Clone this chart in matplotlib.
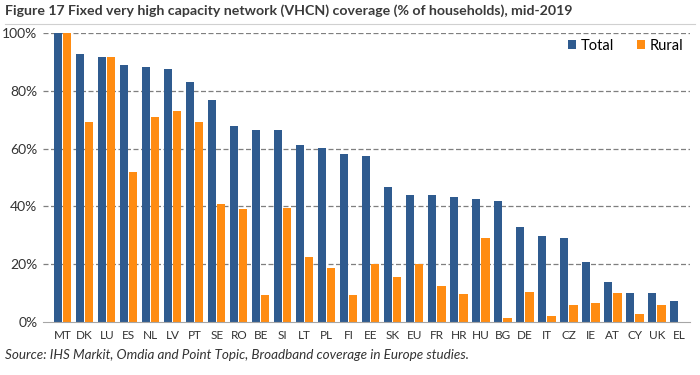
import numpy as np
import matplotlib.pyplot as plt

countries = ["MT", "DK", "LU", "ES", "NL", "LV", "PT", "SE", "RO", "BE", "SI", "LT", "PL", "FI",
             "EE", "SK", "EU", "FR", "HR", "HU", "BG", "DE", "IT", "CZ", "IE", "AT", "CY", "UK", "EL"]
total = [100, 92.7, 91.7, 89.0, 88.3, 87.7, 82.9, 76.9, 67.9, 66.4, 66.4, 61.2, 60.2, 58.2,
         57.5, 46.6, 44.0, 43.8, 43.1, 42.4, 42.0, 32.8, 29.9, 29.1, 20.7, 13.9, 10.2, 9.9, 7.2]
rural = [100, 69.1, 91.7, 51.9, 71.0, 73.1, 69.1, 40.8, 39.2, 9.2, 39.4, 22.4, 18.7, 9.2,
         19.9, 15.5, 20.2, 12.4, 9.6, 28.9, 1.4, 10.3, 2.1, 6.0, 6.7, 9.9, 2.9, 6.0, 0]

blue = "#2f5b8f"
orange = "#ff8c12"

plt.rcParams["font.family"] = ["Lato", "DejaVu Sans"]

fig = plt.figure(figsize=(7, 3.75), dpi=100)
ax = fig.add_axes([43 / 700, 1 - 322 / 375, (690 - 43) / 700, (322 - 33) / 375])

x = np.arange(len(countries))
w = 0.37
ax.bar(x, total, width=w, align="edge", color=blue, label="Total", zorder=3, clip_on=False)
ax.bar(x + 0.42, rural, width=w, align="edge", color=orange, label="Rural", zorder=3, clip_on=False)

ax.set_xlim(-0.5, 28.9)
ax.set_ylim(0, 100)
ax.set_yticks(range(0, 101, 20))
ax.set_yticklabels([f"{v}%" for v in range(0, 101, 20)], fontsize=10, color="#333333")
ax.set_xticks(x + 0.395)
ax.set_xticklabels(countries, fontsize=8.5, color="#333333")
ax.tick_params(length=0, pad=6)
ax.tick_params(axis="y", pad=4)

for v in range(20, 101, 20):
    ax.axhline(v, color="#7f7f7f", lw=0.9, ls=(0, (4, 2)), zorder=1)
for s in ["top", "right", "left"]:
    ax.spines[s].set_visible(False)
ax.spines["bottom"].set_color("#a6a6a6")
ax.spines["bottom"].set_zorder(4)

ax.legend(loc="upper right", bbox_to_anchor=(1.01, 1.025), ncol=2, frameon=False, fontsize=10.5,
          handlelength=0.55, handleheight=0.55, handletextpad=0.3, columnspacing=1.6)

fig.text(5 / 700, 1 - 11 / 375, "Figure 17 Fixed very high capacity network (VHCN) coverage (% of households), mid-2019",
         fontsize=10.2, fontweight="bold", color="#3a3a3a", va="center", ha="left")
fig.add_artist(plt.Line2D([5 / 700, 695 / 700], [1 - 24 / 375, 1 - 24 / 375], color="#d0d0d0", lw=0.8))
fig.text(5 / 700, 1 - 355 / 375, "Source: IHS Markit, Omdia and Point Topic, Broadband coverage in Europe studies.",
         fontsize=9.7, style="italic", color="#333333", va="center", ha="left")

fig.savefig("out.png", dpi=100)
